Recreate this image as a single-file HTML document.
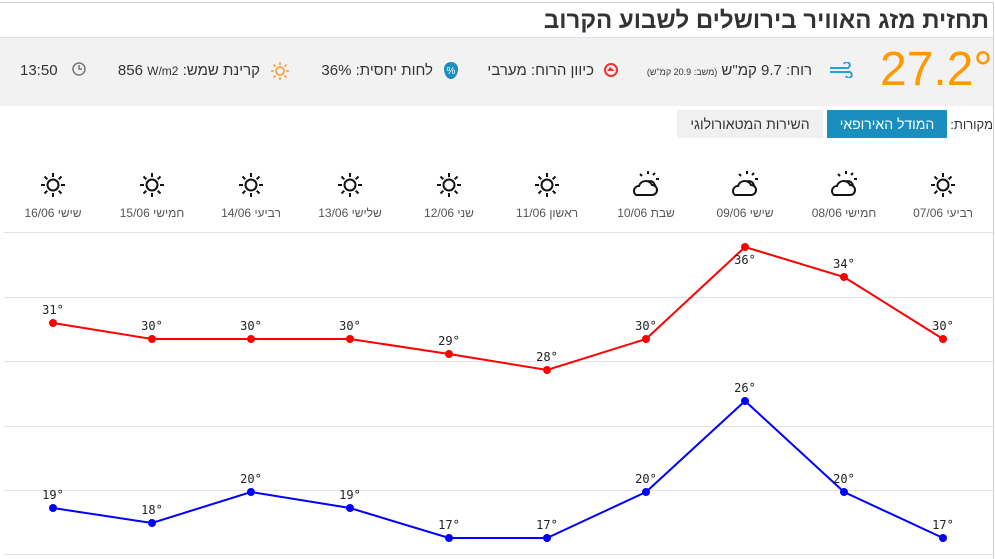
<!DOCTYPE html>
<html><head><meta charset="utf-8"><style>
body{margin:0;width:995px;height:559px;overflow:hidden;background:#fff;font-family:"Liberation Sans","DejaVu Sans",sans-serif;position:relative}
.a{position:absolute;white-space:nowrap}
.t{position:absolute;width:40px;margin-left:-20px;text-align:center;direction:ltr;font-family:"DejaVu Sans Mono","Liberation Mono",monospace;font-size:12px;color:#222;line-height:14px}
</style></head><body>
<div class="a" style="left:0;top:2px;width:993px;height:1px;background:#d0d0d0"></div>
<div class="a" style="left:993px;top:2px;width:1px;height:557px;background:#d0d0d0"></div>
<div class="a" style="right:6px;top:7px;font-size:24px;font-weight:bold;color:#333;direction:rtl">תחזית מזג האוויר בירושלים לשבוע הקרוב</div>
<div class="a" style="left:0;top:37px;width:993px;height:68px;background:#f2f2f2;border-top:1px solid #dde"></div>
<div class="a" style="left:880px;top:42px;font-size:48px;color:#f90">27.2°</div>
<svg class="a" style="left:828px;top:62px" width="26" height="16"><g fill="none" stroke="#2a9fd6" stroke-width="2"><path d="M2 6 H18"/><path d="M2 10 H20 a3 3 0 1 1 -2 4"/><path d="M18 6 a3 3 0 1 0 -2 -4"/></g></svg>
<div class="a" style="right:183px;top:62px;font-size:15px;color:#333;direction:rtl">רוח: 9.7 קמ"ש <span style="font-size:9px">(משב: 20.9 קמ"ש)</span></div>
<svg class="a" style="left:604px;top:63px" width="16" height="16"><circle cx="7" cy="7" r="6" fill="none" stroke="#e33" stroke-width="2"/><path d="M3 8 L11 8 L6 4 Z" fill="#e33"/></svg>
<div class="a" style="right:401px;top:62px;font-size:15px;color:#333;direction:rtl">כיוון הרוח: מערבי</div>
<div class="a" style="left:444px;top:62px;width:14px;height:17px;background:#1a8fbf;border-radius:50% 50% 50% 50%/40% 40% 60% 60%;color:#fff;font-size:10px;line-height:19px;text-align:center">%</div>
<div class="a" style="right:562px;top:62px;font-size:15px;color:#333;direction:rtl">לחות יחסית: 36%</div>
<svg class="a" style="left:270px;top:61px" width="20" height="20"><g stroke="#f93" stroke-width="1.6" fill="none"><circle cx="10" cy="10" r="4"/><path d="M10 1v3M10 16v3M1 10h3M16 10h3M3.6 3.6l2 2M14.4 14.4l2 2M3.6 16.4l2-2M14.4 5.6l2-2"/></g></svg>
<div class="a" style="right:735px;top:62px;font-size:15px;color:#333;direction:rtl">קרינת שמש: <span dir="ltr" style="unicode-bidi:isolate">856 <span style="font-size:12px">W/m2</span></span></div>
<svg class="a" style="left:72px;top:62px" width="16" height="16"><circle cx="7" cy="7" r="6" fill="none" stroke="#777" stroke-width="1.5"/><path d="M7 3v4h3" stroke="#777" stroke-width="1.5" fill="none"/></svg>
<div class="a" style="left:20px;top:62px;font-size:15px;color:#333">13:50</div>
<div class="a" style="right:2px;top:117px;font-size:13px;color:#333;direction:rtl">מקורות:</div>
<div class="a" style="left:827px;top:110px;width:120px;height:28px;background:#1a8fbf;color:#fff;font-size:14px;line-height:28px;text-align:center">המודל האירופאי</div>
<div class="a" style="left:677px;top:110px;width:146px;height:28px;background:#f0f0f0;color:#333;font-size:14px;line-height:28px;text-align:center">השירות המטאורולוגי</div>
<svg class="a" style="left:0;top:0" width="995" height="559" font-family="Liberation Sans, sans-serif">
<defs>
<g id="sun" stroke="#111" stroke-width="2" fill="none"><circle cx="0" cy="0" r="5.5"/><path d="M0 -12v4M0 8v4M-12 0h4M8 0h4M-8.5 -8.5l2.8 2.8M5.7 5.7l2.8 2.8M-8.5 8.5l2.8 -2.8M5.7 -5.7l2.8 -2.8"/></g>
<g id="pc" stroke="#111" stroke-width="2" fill="none"><path d="M2 -2 a5 5 0 1 1 5 8"/><path d="M4 -14v3M12 -6h3M-4 -11l2 2M11 -12l-2 2M11 4l-2 -2"/><path d="M-8 10 h16 a5 5 0 0 0 0 -10 a7 7 0 0 0 -13 1 a5 5 0 0 0 -3 9 z" fill="#fff"/></g>
</defs>
<g stroke="#e3e3e3" stroke-width="1">
<line x1="4" x2="993" y1="232.5" y2="232.5"/><line x1="4" x2="993" y1="297.5" y2="297.5"/><line x1="4" x2="993" y1="361.5" y2="361.5"/><line x1="4" x2="993" y1="426.5" y2="426.5"/><line x1="4" x2="993" y1="490.5" y2="490.5"/><line x1="4" x2="993" y1="554.5" y2="554.5"/>
</g>
<g font-size="12" fill="#555" text-anchor="middle">
<text x="943" y="217">רביעי 07/06</text><text x="844" y="217">חמישי 08/06</text><text x="745" y="217">שישי 09/06</text><text x="646" y="217">שבת 10/06</text><text x="547" y="217">ראשון 11/06</text><text x="449" y="217">שני 12/06</text><text x="350" y="217">שלישי 13/06</text><text x="251" y="217">רביעי 14/06</text><text x="152" y="217">חמישי 15/06</text><text x="53" y="217">שישי 16/06</text>
</g>
<use href="#sun" x="943" y="185"/><use href="#sun" x="547" y="185"/><use href="#sun" x="449" y="185"/><use href="#sun" x="350" y="185"/><use href="#sun" x="251" y="185"/><use href="#sun" x="152" y="185"/><use href="#sun" x="53" y="185"/>
<use href="#pc" x="842" y="185"/><use href="#pc" x="743" y="185"/><use href="#pc" x="644" y="185"/>
<polyline fill="none" stroke="#f00" stroke-width="2" points="943,339 844,277 745,247 646,339 547,370 449,354 350,339 251,339 152,339 53,323"/>
<polyline fill="none" stroke="#00f" stroke-width="2" points="943,538 844,492 745,401 646,492 547,538 449,538 350,508 251,492 152,523 53,508"/>
<g fill="#f00"><circle cx="943" cy="339" r="4"/><circle cx="844" cy="277" r="4"/><circle cx="745" cy="247" r="4"/><circle cx="646" cy="339" r="4"/><circle cx="547" cy="370" r="4"/><circle cx="449" cy="354" r="4"/><circle cx="350" cy="339" r="4"/><circle cx="251" cy="339" r="4"/><circle cx="152" cy="339" r="4"/><circle cx="53" cy="323" r="4"/></g>
<g fill="#00f"><circle cx="943" cy="538" r="4"/><circle cx="844" cy="492" r="4"/><circle cx="745" cy="401" r="4"/><circle cx="646" cy="492" r="4"/><circle cx="547" cy="538" r="4"/><circle cx="449" cy="538" r="4"/><circle cx="350" cy="508" r="4"/><circle cx="251" cy="492" r="4"/><circle cx="152" cy="523" r="4"/><circle cx="53" cy="508" r="4"/></g>
</svg>
<div class="t" style="left:943px;top:319px">30°</div><div class="t" style="left:844px;top:257px">34°</div><div class="t" style="left:745px;top:253px">36°</div><div class="t" style="left:646px;top:319px">30°</div><div class="t" style="left:547px;top:350px">28°</div><div class="t" style="left:449px;top:334px">29°</div><div class="t" style="left:350px;top:319px">30°</div><div class="t" style="left:251px;top:319px">30°</div><div class="t" style="left:152px;top:319px">30°</div><div class="t" style="left:53px;top:303px">31°</div>
<div class="t" style="left:943px;top:518px">17°</div><div class="t" style="left:844px;top:472px">20°</div><div class="t" style="left:745px;top:381px">26°</div><div class="t" style="left:646px;top:472px">20°</div><div class="t" style="left:547px;top:518px">17°</div><div class="t" style="left:449px;top:518px">17°</div><div class="t" style="left:350px;top:488px">19°</div><div class="t" style="left:251px;top:472px">20°</div><div class="t" style="left:152px;top:503px">18°</div><div class="t" style="left:53px;top:488px">19°</div>
</body></html>
